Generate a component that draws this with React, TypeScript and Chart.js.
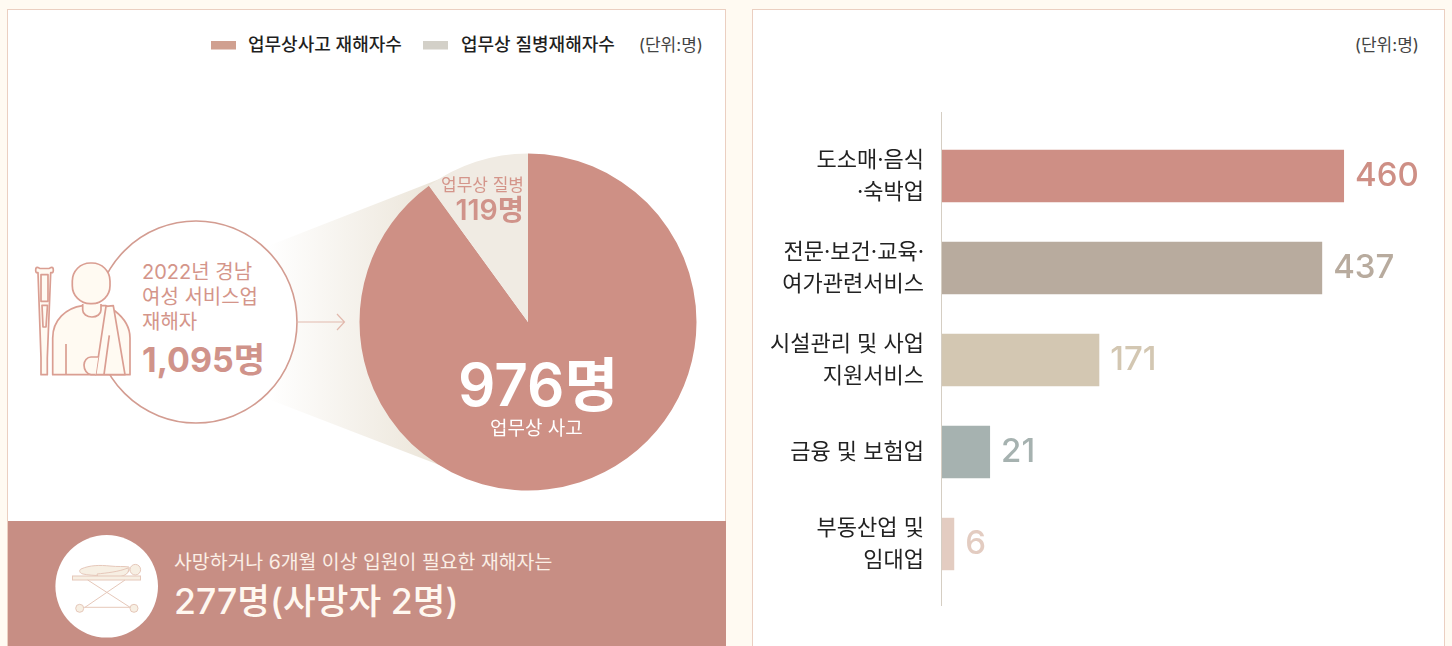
import React, { useEffect, useRef } from "react";
import { Chart, registerables } from "chart.js";

Chart.register(...registerables);

const FONT = 'Inter, "Noto Sans CJK KR", sans-serif';

// Pie: printed values, and the shares as actually drawn in the reference (36 degree wedge).
const pieCategories = ["업무상 사고", "업무상 질병"];
const piePrintedValues = [976, 119];
const pieDrawnShares = [90, 10];
const pieColors = ["#CE9085", "#F0EBE3"];

// Bars: printed values, and the lengths as drawn in the reference (the original is not to scale).
const barCategories = [
  ["도소매·음식", "·숙박업"],
  ["전문·보건·교육·", "여가관련서비스"],
  ["시설관리 및 사업", "지원서비스"],
  ["금융 및 보험업"],
  ["부동산업 및", "임대업"],
];
const barPrintedValues = [460, 437, 171, 21, 6];
const barDrawnLengths = [460, 435, 180, 55, 14];
const barColors = ["#CE8F85", "#B8AB9E", "#D3C7B2", "#A6B2B0", "#E3CCC1"];

const legendLabels = ["업무상사고 재해자수", "업무상 질병재해자수"];
const unitLabel = "(단위:명)";

const Text = ({ x, y, size, color, weight = 400, right, children }: any) => (
  <div
    style={{
      position: "absolute",
      top: y,
      ...(right !== undefined ? { right: 1452 - right } : { left: x }),
      transform: "translateY(-50%)",
      fontFamily: FONT,
      fontSize: size,
      fontWeight: weight,
      color,
      whiteSpace: "nowrap",
      lineHeight: 1,
    }}
  >
    {children}
  </div>
);

const Decor = () => (
  <svg width={1452} height={646} style={{ position: "absolute", left: 0, top: 0 }}>
    <defs>
      <linearGradient id="cone" gradientUnits="userSpaceOnUse" x1={268} y1={0} x2={450} y2={0}>
        <stop offset="0" stopColor="#FFFFFF" />
        <stop offset="1" stopColor="#EAE3D6" />
      </linearGradient>
    </defs>
    <polygon points="268,246 460,171 460,473 268,399" fill="url(#cone)" />
    <circle cx={196} cy={322} r={101} fill="#FFFFFF" stroke="#D39C91" strokeWidth={1.6} />
    <path d="M297 322H344M337 314L344.5 322L337 330" fill="none" stroke="#E2B9AD" strokeWidth={1.2} />
    <g fill="#FFFAF2" stroke="#DA9E92" strokeWidth={1.7} strokeLinejoin="round">
      <path d="M52.7 374.7V338C52.7 320 66 308 82.7 305.7H106L115 311C124 318 130 327 130 338V374.7Z" />
      <path d="M82.7 304V310C82.7 314 87 317 92 317C97 317 101 314 101 310V304" />
      <rect x={72.3} y={263} width={37.7} height={40.7} rx={18} />
      <path d="M106 306.3L113.3 305.7L125 374.7H95.7Z" />
      <path d="M109.3 335.3L104 374.7M66 344V374.7" fill="none" />
      <path d="M98.3 357H91C87 357 84 361 84 365C84 370 87 374 91 374.7H95.7" />
      <path d="M38 272.7H36.5C35.5 272 35.3 268.5 36.5 267.5C38 267 39 268 40 268.5H49C50 268 51 267 52.5 267.5C53.7 268.5 53.5 272 52.5 272.7H50.7L47.3 358V374.7H41V358Z" />
      <path d="M41 274.7H48V301.3H41ZM42 305.3H47.5L46 327H43Z" fill="none" />
    </g>
    <rect x={7.5} y={9.5} width={718} height={640} fill="none" stroke="#EBCFC1" />
    <rect x={752.5} y={9.5} width={692} height={640} fill="none" stroke="#EBCFC1" />
    <rect x={8} y={521} width={718} height={125} fill="#C78E84" />
    <circle cx={106.7} cy={586.3} r={51.3} fill="#FFFFFF" />
    <g fill="#F7EFE3" stroke="#E6C8BA" strokeWidth={1}>
      <path d="M81 569C90 565 100 565 110 566C118 567 124 566 129 567C130 571 128 574 122 575C110 576 92 576 83 574C79 573 79 570 81 569Z" />
      <path d="M97 574C106 573 118 572 128 568C130 572 126 576 118 577C110 577 102 577 98 577Z" />
      <circle cx={135.3} cy={569.7} r={5.3} />
      <rect x={72.5} y={576} width={68} height={4} />
      <path d="M87.7 580L130 607.3M125 580L85 607.3M83 607.3H131" fill="none" />
      <circle cx={79.7} cy={608.3} r={4} />
      <circle cx={134} cy={608.3} r={4} />
    </g>
    <rect x={211} y={41} width={25} height={8.5} fill="#D0A090" />
    <rect x={423} y={41} width={25} height={8.5} fill="#D3D0C8" />
  </svg>
);

export default function App() {
  const pieRef = useRef<HTMLCanvasElement>(null);
  const barRef = useRef<HTMLCanvasElement>(null);

  useEffect(() => {
    const pie = new Chart(pieRef.current!, {
      type: "pie",
      data: {
        labels: pieCategories,
        datasets: [{ data: pieDrawnShares, backgroundColor: pieColors, borderWidth: 0 }],
      },
      options: {
        animation: false,
        responsive: false,
        radius: 168.5,
        layout: { padding: 0 },
        plugins: { legend: { display: false }, tooltip: { enabled: false } },
      } as any,
    });

    const barExtras = {
      id: "barExtras",
      afterDatasetsDraw(chart: any) {
        const { ctx, chartArea, scales } = chart;
        const x = Math.round(scales.x.getPixelForValue(0)) - 0.5;
        ctx.save();
        ctx.strokeStyle = "#D5CEC3";
        ctx.lineWidth = 1;
        ctx.beginPath();
        ctx.moveTo(x, chartArea.top - 18);
        ctx.lineTo(x, chartArea.bottom + 16);
        ctx.stroke();
        ctx.font = `500 33px ${FONT}`;
        ctx.textAlign = "left";
        ctx.textBaseline = "middle";
        chart.getDatasetMeta(0).data.forEach((el: any, i: number) => {
          ctx.fillStyle = barColors[i];
          ctx.fillText(String(barPrintedValues[i]), el.x + 11, el.y);
        });
        ctx.restore();
      },
    };

    const bar = new Chart(barRef.current!, {
      type: "bar",
      data: {
        labels: barCategories as any,
        datasets: [
          {
            data: barDrawnLengths,
            backgroundColor: barColors,
            borderWidth: 0,
            categoryPercentage: 1,
            barPercentage: 0.57,
          },
        ],
      },
      options: {
        indexAxis: "y",
        animation: false,
        responsive: false,
        layout: { padding: { top: 40, bottom: 40, right: 65, left: 0 } },
        scales: {
          x: { display: false, min: 0, max: 500 },
          y: {
            afterFit: (s: any) => {
              s.width = 190;
              s.paddingTop = 0;
              s.paddingBottom = 0;
            },
            grid: { display: false },
            border: { display: false },
            ticks: {
              padding: 10,
              color: "#222222",
              autoSkip: false,
              font: { family: FONT, size: 22, lineHeight: 1.46 },
            },
          },
        },
        plugins: { legend: { display: false }, tooltip: { enabled: false } },
      } as any,
      plugins: [barExtras],
    });

    return () => {
      pie.destroy();
      bar.destroy();
    };
  }, []);

  return (
    <div
      style={{
        position: "absolute",
        left: 0,
        top: 0,
        width: 1452,
        height: 646,
        overflow: "hidden",
        background: "#FFFAF2",
      }}
    >
      <div style={{ position: "absolute", left: 8, top: 10, width: 717, height: 511, background: "#fff" }} />
      <div style={{ position: "absolute", left: 753, top: 10, width: 691, height: 636, background: "#fff" }} />
      <Decor />
      <canvas ref={pieRef} width={400} height={400} style={{ position: "absolute", left: 328, top: 122 }} />
      <canvas ref={barRef} width={692} height={540} style={{ position: "absolute", left: 752, top: 90 }} />

      <Text x={248} y={45} size={18} weight={500} color="#1F1F1F">{legendLabels[0]}</Text>
      <Text x={461} y={45} size={18} weight={500} color="#1F1F1F">{legendLabels[1]}</Text>
      <Text right={703} y={45} size={17} color="#444444">{unitLabel}</Text>
      <Text right={1419} y={45} size={17} color="#444444">{unitLabel}</Text>

      <Text x={142} y={272} size={20} color="#D4958A">2022년 경남</Text>
      <Text x={142} y={297} size={20} color="#D4958A">여성 서비스업</Text>
      <Text x={142} y={322} size={20} color="#D4958A">재해자</Text>
      <Text x={142} y={360} size={34} weight={700} color="#D0938A">1,095명</Text>

      <Text right={524} y={185} size={17} color="#D4958A">{pieCategories[1]}</Text>
      <Text right={524} y={210} size={28.5} weight={600} color="#D0938A">{piePrintedValues[1]}명</Text>
      <Text x={458} y={385} size={58.5} weight={600} color="#FFFFFF">{piePrintedValues[0]}명</Text>
      <Text x={490} y={428} size={19} color="#FFFFFF">{pieCategories[0]}</Text>

      <Text x={174} y={563} size={19.4} color="#FBEFE6">사망하거나 6개월 이상 입원이 필요한 재해자는</Text>
      <Text x={174} y={602} size={35.6} weight={500} color="#FFF8F0">277명(사망자 2명)</Text>
    </div>
  );
}
